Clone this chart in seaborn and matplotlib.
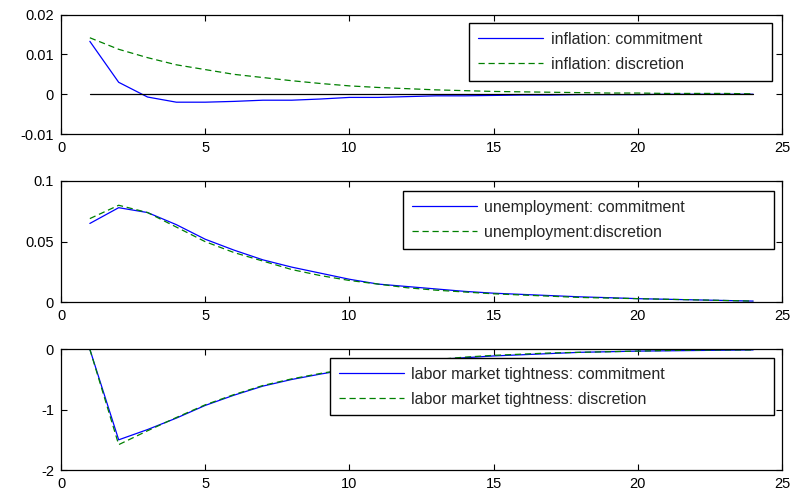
import numpy as np
import pandas as pd
import matplotlib
matplotlib.use("Agg")
import matplotlib.pyplot as plt
import seaborn as sns
from matplotlib.ticker import FixedLocator, FixedFormatter

periods = list(range(1, 25))

infl_commit = [0.0133, 0.0030, -0.0007, -0.0020, -0.0020, -0.0018, -0.0015, -0.0015,
               -0.0012, -0.0008, -0.0008, -0.0006, -0.0004, -0.0004, -0.0003, -0.0002,
               -0.0002, -0.0001, -0.0001, -0.0001, 0.0, 0.0, 0.0, 0.0]
infl_discr = [0.0142, 0.0113, 0.0092, 0.0074, 0.0062, 0.0050, 0.0042, 0.0034,
              0.0027, 0.0021, 0.0017, 0.0014, 0.0011, 0.0009, 0.0007, 0.0006,
              0.0005, 0.0004, 0.0003, 0.0003, 0.0002, 0.0002, 0.0002, 0.0001]

unemp_commit = [0.065, 0.078, 0.074, 0.064, 0.052, 0.043, 0.035, 0.029,
                0.024, 0.019, 0.015, 0.013, 0.011, 0.009, 0.0075, 0.0065,
                0.0055, 0.0045, 0.0038, 0.003, 0.0025, 0.002, 0.0015, 0.001]
unemp_discr = [0.069, 0.080, 0.074, 0.062, 0.050, 0.041, 0.034, 0.027,
               0.022, 0.018, 0.015, 0.012, 0.010, 0.0085, 0.007, 0.006,
               0.005, 0.004, 0.0035, 0.003, 0.0025, 0.002, 0.0015, 0.001]

lmt_commit = [0.0, -1.50, -1.33, -1.14, -0.93, -0.76, -0.61, -0.50,
              -0.41, -0.33, -0.27, -0.22, -0.17, -0.14, -0.11, -0.09,
              -0.07, -0.05, -0.04, -0.03, -0.025, -0.02, -0.015, -0.01]
lmt_discr = [0.0, -1.58, -1.35, -1.13, -0.92, -0.75, -0.60, -0.49,
             -0.40, -0.32, -0.26, -0.21, -0.17, -0.13, -0.10, -0.08,
             -0.06, -0.05, -0.04, -0.03, -0.02, -0.015, -0.01, -0.01]

labels = [("inflation: commitment", "inflation: discretion"),
          ("unemployment: commitment", "unemployment:discretion"),
          ("labor market tightness: commitment", "labor market tightness: discretion")]
series = [(infl_commit, infl_discr), (unemp_commit, unemp_discr), (lmt_commit, lmt_discr)]
yticks = [[-0.01, 0, 0.01, 0.02], [0, 0.05, 0.1], [-2, -1, 0]]
yticklabels = [["-0.01", "0", "0.01", "0.02"], ["0", "0.05", "0.1"], ["-2", "-1", "0"]]
xticks = [0, 5, 10, 15, 20, 25]

sns.set_theme(style="ticks")
plt.rcParams['font.family'] = ['Liberation Sans', 'DejaVu Sans']

fig = plt.figure(figsize=(7.93, 4.95), dpi=100)
W, H = 793, 495
boxes = [(61, 14.7, 782, 134), (61, 181, 782, 302.3), (61, 349.3, 782, 470)]
# legend boxes (x0, width, top) in axes fraction
leg_boxes = [(0.566, 0.420, 0.93), (0.474, 0.515, 0.917), (0.373, 0.616, 0.928)]

for i, (x0, y0, x1, y1) in enumerate(boxes):
    ax = fig.add_axes([x0 / W, 1 - y1 / H, (x1 - x0) / W, (y1 - y0) / H])
    c, d = series[i]
    df = pd.DataFrame({"t": periods + periods,
                       "v": list(c) + list(d),
                       "s": [labels[i][0]] * len(periods) + [labels[i][1]] * len(periods)})
    sns.lineplot(data=df, x="t", y="v", hue="s", style="s",
                 palette=["#0000ff", "#008000"], dashes=[(None, None), (5, 3)],
                 linewidth=0.9, ax=ax, legend=True)
    if i == 0:
        sns.lineplot(x=periods, y=[0] * len(periods), color="black", linewidth=0.9, ax=ax)
    ax.set_xlim(0, 25)
    ax.set_ylim(yticks[i][0], yticks[i][-1])
    ax.xaxis.set_major_locator(FixedLocator(xticks))
    ax.xaxis.set_major_formatter(FixedFormatter([str(t) for t in xticks]))
    ax.yaxis.set_major_locator(FixedLocator(yticks[i]))
    ax.yaxis.set_major_formatter(FixedFormatter(yticklabels[i]))
    ax.set_xlabel("")
    ax.set_ylabel("")
    ax.tick_params(direction="in", top=True, right=True, length=4, width=0.8,
                   labelsize=10.5, colors="black", pad=5)
    for sp in ax.spines.values():
        sp.set_visible(True)
        sp.set_color("black")
        sp.set_linewidth(0.9)
    h, l = ax.get_legend_handles_labels()
    lx, lw, lt = leg_boxes[i]
    leg = ax.legend(h[:2], l[:2], loc="upper left", bbox_to_anchor=(lx, lt - 0.5, lw, 0.5),
                    mode="expand", borderaxespad=0, frameon=True, fancybox=False,
                    fontsize=11.5, handlelength=4.1, handletextpad=0.45, borderpad=0.55,
                    labelspacing=0.62, edgecolor="black", framealpha=1)
    leg.get_frame().set_linewidth(1.0)

fig.savefig("out.png", dpi=100)
